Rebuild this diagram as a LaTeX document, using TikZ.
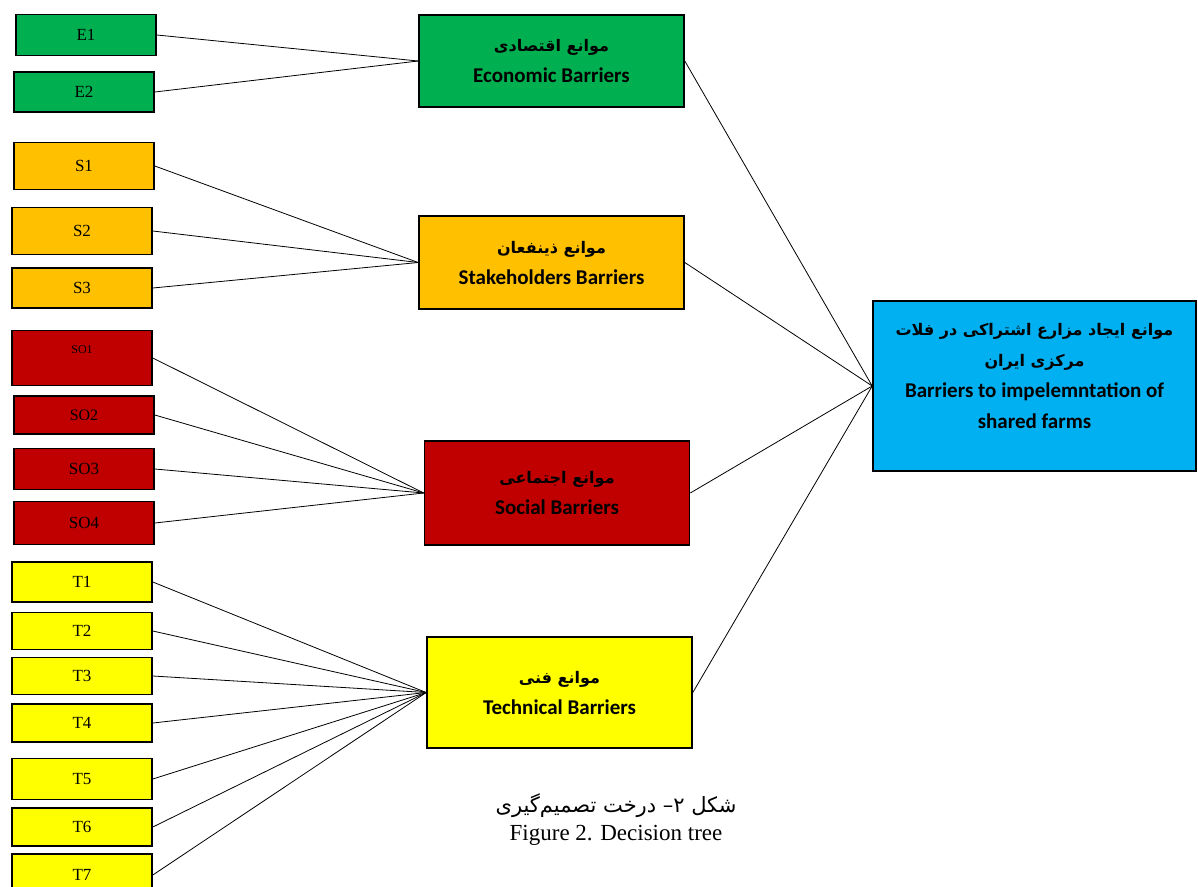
\documentclass[tikz,border=0pt]{standalone}
\usepackage{fontspec}
\usepackage{tikz}
\setmainfont{Liberation Serif}
\newfontfamily\barfont{Carlito}
\newfontfamily\farsi[Script=Arabic]{DejaVu Sans}
\TeXXeTstate=1
\definecolor{ecogreen}{HTML}{00B050}
\definecolor{stakeorange}{HTML}{FFC000}
\definecolor{socred}{HTML}{C00000}
\definecolor{techyellow}{HTML}{FFFF00}
\definecolor{mainblue}{HTML}{00B0F0}
\newcommand{\fa}[1]{{\farsi\fontsize{16}{31}\selectfont\beginR #1\endR}}

\begin{document}
\begin{tikzpicture}
	[x=1pt,y=-1pt,
	every node/.style={draw=black,line width=1.6pt,inner sep=0pt},
	item/.style={minimum width=140pt,font=\fontsize{17}{17}\selectfont},
	group/.style={minimum width=265pt,align=center,font=\barfont\bfseries\fontsize{21}{31}\selectfont},
	captext/.style={draw=none,font=\fontsize{23}{23}\selectfont}]
	\useasboundingbox (0,0) rectangle (1198,886);
	\clip (0,0) rectangle (1198,886);
	\node[item,fill=ecogreen,minimum height=41pt] (e1) at (86,35) {E1};
	\node[item,fill=ecogreen,minimum height=40pt] (e2) at (84,92) {E2};
	\node[item,fill=stakeorange,minimum height=47pt] (s1) at (84,166) {S1};
	\node[item,fill=stakeorange,minimum height=47pt] (s2) at (82,231) {S2};
	\node[item,fill=stakeorange,minimum height=40pt] (s3) at (82,288) {S3};
	\node[item,fill=socred,minimum height=55pt,text depth=16pt,font=\fontsize{12}{12}\selectfont] (so1) at (82,358) {SO1};
	\node[item,fill=socred,minimum height=38pt,font=\fontsize{16}{16}\selectfont] (so2) at (84,415) {SO2};
	\node[item,fill=socred,minimum height=41pt] (so3) at (84,469) {SO3};
	\node[item,fill=socred,minimum height=43pt] (so4) at (84,523) {SO4};
	\node[item,fill=techyellow,minimum height=40pt] (t1) at (82,582) {T1};
	\node[item,fill=techyellow,minimum height=37pt] (t2) at (82,631) {T2};
	\node[item,fill=techyellow,minimum height=37pt] (t3) at (82,676) {T3};
	\node[item,fill=techyellow,minimum height=38pt] (t4) at (82,723) {T4};
	\node[item,fill=techyellow,minimum height=41pt] (t5) at (82,779) {T5};
	\node[item,fill=techyellow,minimum height=38pt] (t6) at (82,827) {T6};
	\node[item,fill=techyellow,minimum height=42pt] (t7) at (82,875) {T7};
	
	\node[group,fill=ecogreen,minimum height=92pt] (eco) at (551.5,61) {\fa{موانع اقتصادی}\\Economic Barriers};
	\node[group,fill=stakeorange,minimum height=93pt] (stake) at (551.5,262.5) {\fa{موانع ذینفعان}\\Stakeholders Barriers};
	\node[group,fill=socred,minimum height=104pt] (soc) at (557,493) {\fa{موانع اجتماعی}\\Social Barriers};
	\node[group,fill=techyellow,minimum height=111pt] (tech) at (559.5,692.5) {\fa{موانع فنی}\\Technical Barriers};
	\node[group,fill=mainblue,minimum width=323pt,minimum height=170pt] (main) at (1034.5,386) {\fa{موانع ایجاد مزارع اشتراکی در فلات}\\\fa{مرکزی ایران}\\Barriers to impelemntation of\\shared farms\\[-10pt]\mbox{}};
	
	\node[captext] (capfa) at (616,806) {\farsi\fontsize{21}{21}\selectfont\beginR شکل ۲– درخت تصمیم‌گیری\endR};
	\node[captext] (capen) at (616,835) {Figure 2. Decision tree};
	
	\foreach \from/\to in {e1/eco,e2/eco,s1/stake,s2/stake,s3/stake,so1/soc,so2/soc,so3/soc,so4/soc,t1/tech,t2/tech,t3/tech,t4/tech,t5/tech,t6/tech,t7/tech}
	\draw[line width=0.8pt] (\from.east) -- (\to.west);
	\foreach \from in {eco,stake,soc,tech}
	\draw[line width=0.8pt] (\from.east) -- (main.west);
	\end{tikzpicture}
\end{document}
